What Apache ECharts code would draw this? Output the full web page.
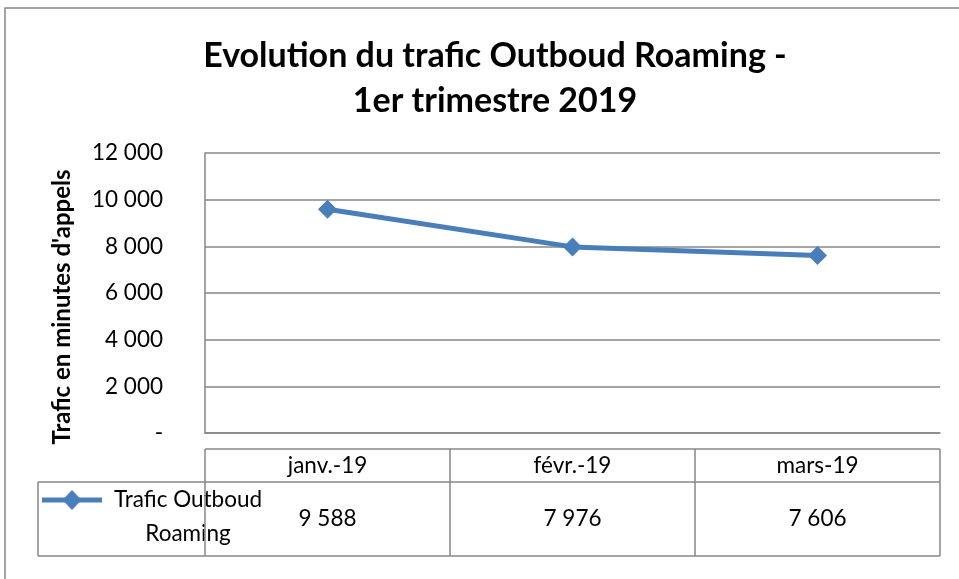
<!DOCTYPE html>
<html>
<head>
<meta charset="utf-8">
<script src="https://cdn.jsdelivr.net/npm/echarts@6/dist/echarts.min.js"></script>
<style>
  html, body { margin: 0; padding: 0; background: #fff; }
  #chart { width: 959px; height: 579px; }
</style>
</head>
<body>
<div id="chart"></div>
<script>
const categories = ['janv.-19', 'févr.-19', 'mars-19'];
const seriesName = 'Trafic Outboud Roaming';
const trafficValues = [9588, 7976, 7606];
const yTicks = [0, 2000, 4000, 6000, 8000, 10000, 12000];

const FONT = 'Lato';
const BLUE = '#4A7EBB';
const GRID = '#878787';

// French style: space as thousands separator, "-" for zero
const fmt = (v) => v === 0 ? '-' : String(v).replace(/\B(?=(\d{3})+(?!\d))/g, ' ');

const chart = echarts.init(document.getElementById('chart'));

const option = {
  animation: false,
  title: {
    text: 'Evolution du trafic Outboud Roaming -\n1er trimestre 2019',
    left: 490,
    top: 29,
    textAlign: 'center',
    textStyle: { fontFamily: FONT, fontWeight: 'bold', fontSize: 34, lineHeight: 45, color: '#000' }
  },
  grid: { left: 205, right: 19, top: 153, bottom: 146 },
  xAxis: {
    type: 'category',
    data: categories,
    boundaryGap: true,
    axisLine: { show: true, lineStyle: { color: GRID, width: 1.5 } },
    axisTick: { show: false },
    axisLabel: { show: false }
  },
  yAxis: {
    type: 'value',
    min: yTicks[0],
    max: yTicks[yTicks.length - 1],
    interval: 2000,
    axisLine: { show: true, lineStyle: { color: GRID, width: 1.5 } },
    axisTick: { show: false },
    splitLine: { lineStyle: { color: GRID, width: 1.5 } },
    axisLabel: { formatter: fmt, fontFamily: FONT, fontSize: 22.5, color: '#000', margin: 42 }
  },
  series: [{
    name: seriesName,
    type: 'line',
    data: trafficValues,
    symbol: 'diamond',
    symbolSize: 19,
    lineStyle: { color: BLUE, width: 5 },
    itemStyle: { color: BLUE }
  }]
};
chart.setOption(option);

// data table under the plot, aligned with the category bands
const p0 = chart.convertToPixel({ xAxisIndex: 0 }, 0);
const p1 = chart.convertToPixel({ xAxisIndex: 0 }, 1);
const band = p1 - p0;
const tableLeft = p0 - band / 2;
const tableRight = tableLeft + band * categories.length;
const legendLeft = 38, headTop = 449, rowMid = 482, rowBottom = 556;
const line = (x1, y1, x2, y2) => ({ type: 'line', shape: { x1, y1, x2, y2 }, style: { stroke: GRID, lineWidth: 1.5 } });
const txt = (x, y, text, align) => ({
  type: 'text', x, y,
  style: { text, fontFamily: FONT, fontSize: 22.5, fill: '#000', align: align || 'center', verticalAlign: 'middle' }
});

const g = [
  { type: 'rect', shape: { x: 5, y: 8, width: 1000, height: 1000 }, style: { fill: 'none', stroke: GRID, lineWidth: 1.5 } },
  {
    type: 'text', x: 62, y: 307, rotation: Math.PI / 2,
    style: { text: "Trafic en minutes d'appels", fontFamily: FONT, fontWeight: 'bold', fontSize: 24, fill: '#000', align: 'center', verticalAlign: 'middle' }
  },
  line(tableLeft, headTop, tableRight, headTop),
  line(legendLeft, rowMid, tableRight, rowMid),
  line(legendLeft, rowBottom, tableRight, rowBottom),
  line(legendLeft, rowMid, legendLeft, rowBottom),
  // legend key
  { type: 'line', shape: { x1: 42, y1: 500, x2: 102, y2: 500 }, style: { stroke: BLUE, lineWidth: 5 } },
  { type: 'polygon', shape: { points: [[72, 490], [81.5, 500], [72, 510], [62.5, 500]] }, style: { fill: BLUE } },
  txt(188, 500, 'Trafic Outboud'),
  txt(188, 534, 'Roaming')
];
for (let i = 0; i <= categories.length; i++) {
  const x = tableLeft + band * i;
  g.push(line(x, headTop, x, rowBottom));
}
categories.forEach((c, i) => {
  const cx = tableLeft + band * (i + 0.5);
  g.push(txt(cx, (headTop + rowMid) / 2, c));
  g.push(txt(cx, (rowMid + rowBottom) / 2, fmt(trafficValues[i])));
});
chart.setOption({ graphic: g });
</script>
</body>
</html>
